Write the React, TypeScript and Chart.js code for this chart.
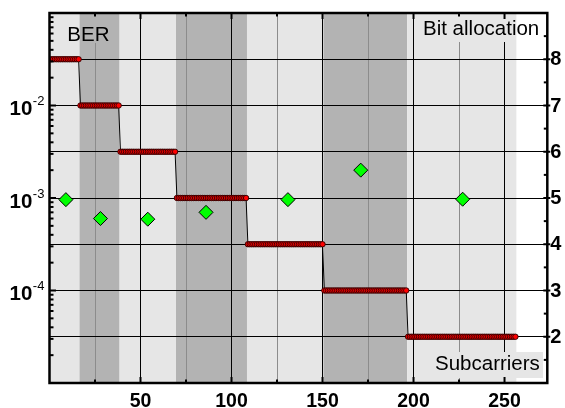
import React, { useEffect, useRef } from "react";
import { Chart, registerables } from "chart.js";

Chart.register(...registerables);

// Bit allocation, run-length form: last subcarrier of each segment and its bit count
const segmentEnds = [16, 38, 69, 108, 150, 196, 256];
const segmentBits = [8, 7, 6, 5, 4, 3, 2];
// Measured BER per segment
const berSubcarriers = [9, 28, 54, 86, 131, 171, 227];
const berValues = [9.6e-4, 6.0e-4, 5.9e-4, 7.0e-4, 9.6e-4, 2.0e-3, 9.7e-4];
// Axis ticks
const xMajorTicks = [50, 100, 150, 200, 250];
const xMinorTicks = [25, 75, 125, 175, 225];
const berExponents = [-2, -3, -4];
const bitTicks = [2, 3, 4, 5, 6, 7, 8];

const FONT = '"Liberation Sans", Arial, sans-serif';
const LIGHT = "#e6e6e6";
const DARK = "#b3b3b3";

function drawBands(chart: any, rx: number, ry: number, rw: number, rh: number, fillWhite: boolean) {
  const { ctx, chartArea: a, scales } = chart;
  const x = scales.x;
  ctx.save();
  ctx.beginPath();
  ctx.rect(rx, ry, rw, rh);
  ctx.clip();
  if (fillWhite) {
    ctx.fillStyle = "#fff";
    ctx.fillRect(rx, ry, rw, rh);
  }
  let prev = x.min;
  segmentEnds.forEach((end, i) => {
    const x0 = x.getPixelForValue(prev);
    const x1 = x.getPixelForValue(end + 0.5);
    ctx.fillStyle = i % 2 === 0 ? LIGHT : DARK;
    ctx.fillRect(x0, a.top, x1 - x0, a.bottom - a.top);
    prev = end + 0.5;
  });
  ctx.restore();
}

const decorPlugin = {
  id: "decor",
  beforeDraw(chart: any) {
    const { ctx, chartArea: a } = chart;
    ctx.save();
    ctx.fillStyle = "#fff";
    ctx.fillRect(0, 0, chart.width, chart.height);
    ctx.restore();
    drawBands(chart, a.left, a.top, a.right - a.left, a.bottom - a.top, false);
  },
  beforeDatasetsDraw(chart: any) {
    const { ctx } = chart;
    // label boxes that hide the grid lines
    drawBands(chart, 60, 15, 58, 28, true);
    drawBands(chart, 418, 15, 127, 27, true);
    ctx.save();
    ctx.fillStyle = LIGHT;
    ctx.fillRect(431, 352, 112, 26);
    ctx.fillStyle = "#000";
    ctx.font = `20.5px ${FONT}`;
    ctx.textAlign = "left";
    ctx.textBaseline = "alphabetic";
    ctx.fillText("BER", 67.3, 40.7);
    ctx.fillText("Bit allocation", 423, 34.7);
    ctx.fillText("Subcarriers", 435, 370);
    ctx.restore();
  },
  afterDraw(chart: any) {
    const { ctx, chartArea: a, scales } = chart;
    const x = scales.x;
    const y = scales.y;
    const y2 = scales.y2;
    ctx.save();
    ctx.strokeStyle = "#000";
    ctx.lineCap = "butt";
    ctx.lineWidth = 2;
    const vline = (px: number, y0: number, y1: number) => {
      ctx.beginPath();
      ctx.moveTo(px, y0);
      ctx.lineTo(px, y1);
      ctx.stroke();
    };
    const hline = (py: number, x0: number, x1: number) => {
      ctx.beginPath();
      ctx.moveTo(x0, py);
      ctx.lineTo(x1, py);
      ctx.stroke();
    };
    xMajorTicks.forEach((v) => {
      const px = x.getPixelForValue(v);
      vline(px, a.top, a.top + 6);
      vline(px, a.bottom, a.bottom - 6);
    });
    xMinorTicks.forEach((v) => {
      const px = x.getPixelForValue(v);
      vline(px, a.top, a.top + 3.5);
      vline(px, a.bottom, a.bottom - 3.5);
    });
    for (let e = -5; e <= -2; e++) {
      for (let k = 1; k <= 9; k++) {
        const v = k * Math.pow(10, e);
        const py = y.getPixelForValue(v);
        if (py < a.top + 1 || py > a.bottom - 1) continue;
        hline(py, a.left, a.left + (k === 1 ? 6.5 : 4));
      }
    }
    bitTicks.forEach((v) => {
      const py = y2.getPixelForValue(v);
      hline(py, a.right - 4, a.right + 3);
    });
    for (let v = 1.5; v < 9; v += 1) {
      const py = y2.getPixelForValue(v);
      hline(py, a.right - 3.5, a.right);
    }
    // frame
    ctx.lineWidth = 2.5;
    ctx.strokeRect(a.left, a.top, a.right - a.left, a.bottom - a.top);

    // tick labels
    ctx.fillStyle = "#000";
    ctx.font = `bold 19.5px ${FONT}`;
    ctx.textAlign = "center";
    ctx.textBaseline = "alphabetic";
    xMajorTicks.forEach((v) => {
      ctx.fillText(String(v), x.getPixelForValue(v), 406.5);
    });
    ctx.font = `bold 20px ${FONT}`;
    ctx.textAlign = "left";
    ctx.textBaseline = "middle";
    bitTicks.forEach((v) => {
      ctx.fillText(String(v), a.right + 3, y2.getPixelForValue(v) + 0.5);
    });
    ctx.textBaseline = "alphabetic";
    berExponents.forEach((e) => {
      const py = y.getPixelForValue(Math.pow(10, e));
      ctx.font = `bold 20.5px ${FONT}`;
      ctx.textAlign = "right";
      ctx.fillText("10", 32.3, py + 9.5);
      ctx.font = `13px ${FONT}`;
      ctx.textAlign = "left";
      ctx.fillText("-" + String(Math.abs(e)), 32.8, py - 0.5);
    });
    ctx.restore();
  },
};

export default function App() {
  const ref = useRef<HTMLCanvasElement>(null);
  useEffect(() => {
    const bitPoints: { x: number; y: number }[] = [];
    let start = 1;
    segmentEnds.forEach((end, i) => {
      for (let s = start; s <= end; s++) bitPoints.push({ x: s, y: segmentBits[i] });
      start = end + 1;
    });
    const berPoints = berSubcarriers.map((s, i) => ({ x: s, y: berValues[i] }));
    const gridValues = [...xMinorTicks, ...xMajorTicks].sort((p, q) => p - q);

    const chart = new Chart(ref.current as HTMLCanvasElement, {
      type: "line",
      data: {
        datasets: [
          {
            label: "Bit allocation",
            data: bitPoints,
            yAxisID: "y2",
            borderColor: "#000",
            borderWidth: 1,
            pointRadius: 2.7,
            pointBackgroundColor: "#ff0000",
            pointBorderColor: "#2a0000",
            pointBorderWidth: 0.9,
            tension: 0,
            order: 2,
          } as any,
          {
            label: "BER",
            data: berPoints,
            yAxisID: "y",
            showLine: false,
            pointStyle: "rectRot",
            pointRadius: 7,
            pointBackgroundColor: "#00ff00",
            pointBorderColor: "#000",
            pointBorderWidth: 1,
            order: 1,
          } as any,
        ],
      },
      options: {
        animation: false,
        responsive: false,
        events: [],
        layout: { padding: { top: 13, left: 0, right: 0, bottom: 0 } },
        plugins: { legend: { display: false }, tooltip: { enabled: false } },
        scales: {
          x: {
            type: "linear",
            position: "bottom",
            min: 0,
            max: 273.5,
            afterBuildTicks: (s: any) => {
              s.ticks = gridValues.map((v) => ({ value: v }));
            },
            grid: {
              color: (c: any) => (c.tick && c.tick.value % 50 === 0 ? "#000" : "#8c8c8c"),
              lineWidth: 1,
              drawTicks: false,
            },
            border: { display: false },
            ticks: { display: false },
            afterFit: (s: any) => {
              s.height = 25;
            },
          },
          y: {
            type: "logarithmic",
            position: "left",
            min: 1e-5,
            max: 1e-1,
            grid: { display: false },
            border: { display: false },
            ticks: { display: false },
            afterFit: (s: any) => {
              s.width = 49.5;
            },
          },
          y2: {
            type: "linear",
            position: "right",
            min: 1,
            max: 9,
            afterBuildTicks: (s: any) => {
              s.ticks = bitTicks.map((v) => ({ value: v }));
            },
            grid: { color: "#000", lineWidth: 1, drawTicks: false },
            border: { display: false },
            ticks: { display: false },
            afterFit: (s: any) => {
              s.width = 17.7;
            },
          },
        } as any,
      },
      plugins: [decorPlugin],
    });
    return () => chart.destroy();
  }, []);

  return (
    <div style={{ position: "absolute", left: 0, top: 0, width: 565, height: 408 }}>
      <canvas ref={ref} width={565} height={408} style={{ display: "block" }} />
    </div>
  );
}
